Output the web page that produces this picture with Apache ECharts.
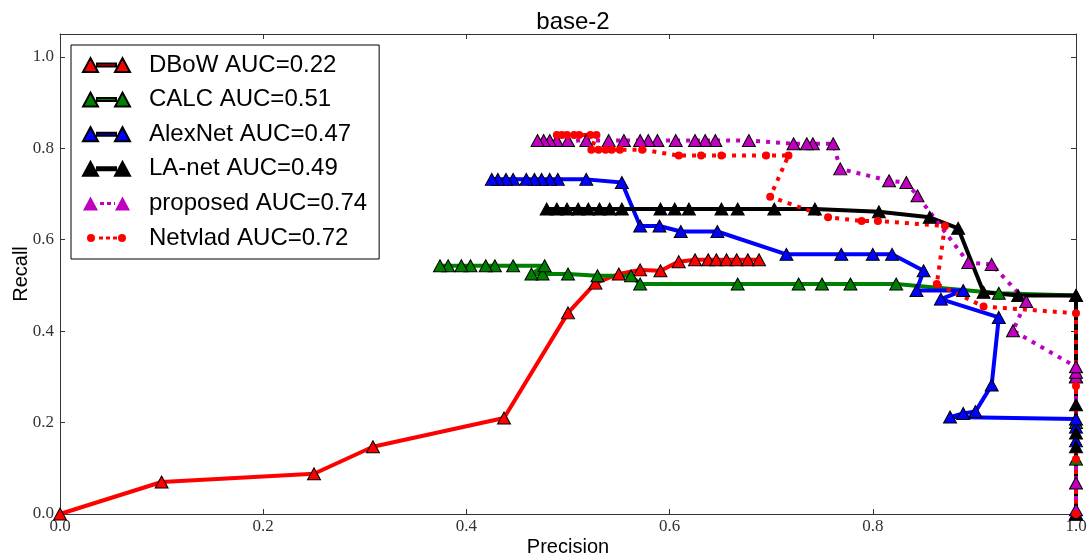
<!DOCTYPE html>
<html>
<head>
<meta charset="utf-8">
<title>base-2</title>
<script src="https://cdn.jsdelivr.net/npm/echarts@6/dist/echarts.min.js"></script>
<style>
    html, body { margin: 0; padding: 0; background: #ffffff; }
    #chart { width: 1092px; height: 557px; }
</style>
</head>
<body>
<div id="chart"></div>
<script>
// precision / recall pairs
const dbowP = [0, 0.1, 0.25, 0.308, 0.437, 0.5, 0.527, 0.55, 0.571, 0.591, 0.609, 0.625, 0.638, 0.646, 0.656, 0.666, 0.677, 0.688];
const dbowR = [0, 0.07, 0.088, 0.147, 0.21, 0.44, 0.505, 0.525, 0.534, 0.532, 0.552, 0.556, 0.556, 0.556, 0.556, 0.556, 0.556, 0.556];

const calcP = [1.0, 1.0, 1.0, 1.0, 0.924, 0.823, 0.778, 0.75, 0.727, 0.667, 0.571, 0.562, 0.529, 0.5, 0.475, 0.464, 0.477, 0.446, 0.428, 0.419, 0.404, 0.395, 0.382, 0.374];
const calcR = [0.0, 0.12, 0.2, 0.478, 0.483, 0.503, 0.503, 0.503, 0.503, 0.503, 0.503, 0.521, 0.521, 0.525, 0.525, 0.525, 0.543, 0.543, 0.543, 0.543, 0.543, 0.543, 0.543, 0.543];

const alexP = [1.0, 1.0, 1.0, 1.0, 0.876, 0.889, 0.901, 0.917, 0.924, 0.867, 0.889, 0.843, 0.85, 0.819, 0.8, 0.769, 0.715, 0.647, 0.611, 0.59, 0.571, 0.553, 0.518, 0.49, 0.482, 0.474, 0.467, 0.459, 0.446, 0.439, 0.431, 0.425];
const alexR = [0.0, 0.16, 0.19, 0.208, 0.212, 0.22, 0.224, 0.282, 0.43, 0.47, 0.489, 0.489, 0.532, 0.568, 0.568, 0.568, 0.568, 0.618, 0.618, 0.63, 0.63, 0.725, 0.732, 0.732, 0.732, 0.732, 0.732, 0.732, 0.732, 0.732, 0.732, 0.732];

const lanetP = [1.0, 1.0, 1.0, 1.0, 1.0, 1.0, 0.943, 0.909, 0.884, 0.856, 0.806, 0.743, 0.703, 0.667, 0.651, 0.619, 0.605, 0.591, 0.553, 0.541, 0.531, 0.52, 0.51, 0.499, 0.489, 0.479];
const lanetR = [0.0, 0.147, 0.177, 0.239, 0.3, 0.478, 0.478, 0.485, 0.625, 0.649, 0.661, 0.667, 0.667, 0.667, 0.667, 0.667, 0.667, 0.667, 0.667, 0.667, 0.667, 0.667, 0.667, 0.667, 0.667, 0.667];

const propP = [1.0, 1.0, 1.0, 1.0, 1.0, 0.938, 0.951, 0.917, 0.894, 0.844, 0.833, 0.816, 0.768, 0.761, 0.741, 0.735, 0.722, 0.678, 0.645, 0.635, 0.625, 0.606, 0.588, 0.579, 0.571, 0.555, 0.54, 0.518, 0.5, 0.489, 0.482, 0.476, 0.47];
const propR = [0.009, 0.068, 0.3, 0.31, 0.322, 0.401, 0.465, 0.546, 0.55, 0.696, 0.725, 0.729, 0.755, 0.81, 0.81, 0.81, 0.81, 0.817, 0.817, 0.817, 0.817, 0.817, 0.817, 0.817, 0.817, 0.817, 0.817, 0.817, 0.817, 0.817, 0.817, 0.817, 0.817];

const netvP = [1.0, 1.0, 1.0, 1.0, 0.909, 0.863, 0.871, 0.805, 0.789, 0.756, 0.699, 0.717, 0.695, 0.651, 0.631, 0.609, 0.573, 0.551, 0.543, 0.537, 0.53, 0.523, 0.528, 0.522, 0.511, 0.506, 0.499, 0.494, 0.489];
const netvR = [0.0, 0.12, 0.28, 0.439, 0.454, 0.503, 0.63, 0.641, 0.641, 0.649, 0.694, 0.784, 0.784, 0.784, 0.784, 0.784, 0.797, 0.797, 0.797, 0.797, 0.797, 0.797, 0.829, 0.829, 0.829, 0.829, 0.829, 0.829, 0.829];

const seriesNames = ['DBoW AUC=0.22', 'CALC AUC=0.51', 'AlexNet AUC=0.47', 'LA-net AUC=0.49', 'proposed AUC=0.74', 'Netvlad AUC=0.72'];
const xTicks = [0, 0.2, 0.4, 0.6, 0.8, 1.0];
const yTicks = [0, 0.2, 0.4, 0.6, 0.8, 1.0];

document.addEventListener('DOMContentLoaded', function () {
    const chart = echarts.init(document.getElementById('chart'), null, { renderer: 'canvas' });

    function pairs(p, r) {
        return p.map(function (v, i) { return [v, r[i]]; });
    }

    // legend icons: marker - line - marker like the matplotlib legend
    // (the lone M0,0 / M47,14 keep every icon box the same 47x14)
    const iconSolid = 'path://M0,0 M47,14 M0,14L7.5,0L15,14Z M14,5.5L33,5.5L33,8.5L14,8.5Z M32,14L39.5,0L47,14Z';
    const iconDotted = 'path://M0,0 M47,14 M0,14L7.5,0L15,14Z M17,5.5L21,5.5L21,8.5L17,8.5Z M24,5.5L28,5.5L28,8.5L24,8.5Z M31,5.5L32,5.5L32,8.5L31,8.5Z M32,14L39.5,0L47,14Z';
    const iconCircles = 'path://M0,0 M47,14 M4,7A4,4,0,1,0,12,7A4,4,0,1,0,4,7Z M16,5.5L20,5.5L20,8.5L16,8.5Z M23,5.5L27,5.5L27,8.5L23,8.5Z M30,5.5L34,5.5L34,8.5L30,8.5Z M35,7A4,4,0,1,0,43,7A4,4,0,1,0,35,7Z';

    function makeSeries(name, color, data, dotted, circle) {
        return {
            name: name,
            type: 'line',
            data: data,
            symbol: circle ? 'circle' : 'triangle',
            symbolSize: circle ? 8 : [13, 12],
            showAllSymbol: true,
            lineStyle: {
                color: color,
                width: 4,
                type: dotted ? [4, 6] : 'solid'
            },
            itemStyle: {
                color: color,
                borderColor: circle ? color : '#000000',
                borderWidth: circle ? 0 : 1
            },
            emphasis: { disabled: true },
            animation: false
        };
    }

    const axisFont = {
        fontFamily: 'Liberation Serif',
        fontSize: 17,
        color: '#333333'
    };

    const option = {
        backgroundColor: '#ffffff',
        title: {
            text: 'base-2',
            left: 568,
            top: 5,
            textAlign: 'center',
            textStyle: {
                fontFamily: 'Liberation Sans',
                fontSize: 24,
                fontWeight: 'normal',
                color: '#000000'
            }
        },
        legend: {
            orient: 'vertical',
            left: 71,
            top: 45,
            padding: [8, 12, 9, 11],
            itemGap: 10.6,
            itemWidth: 47,
            itemHeight: 14,
            symbolKeepAspect: false,
            backgroundColor: '#ffffff',
            borderColor: '#000000',
            borderWidth: 1,
            borderRadius: 0,
            selectedMode: false,
            textStyle: {
                fontFamily: 'Liberation Sans',
                fontSize: 24,
                lineHeight: 24,
                color: '#000000',
                padding: [0, 0, 0, 14]
            },
            data: [
                { name: seriesNames[0], icon: iconSolid },
                { name: seriesNames[1], icon: iconSolid },
                { name: seriesNames[2], icon: iconSolid },
                { name: seriesNames[3], icon: iconSolid },
                { name: seriesNames[4], icon: iconDotted, itemStyle: { borderWidth: 0 } },
                { name: seriesNames[5], icon: iconCircles, itemStyle: { borderWidth: 0 } }
            ]
        },
        grid: {
            left: 60,
            right: 16,
            top: 34,
            bottom: 43,
            containLabel: false,
            outerBoundsMode: 'none'
        },
        xAxis: [
            {
                type: 'value',
                min: xTicks[0],
                max: xTicks[xTicks.length - 1],
                interval: 0.2,
                name: 'Precision',
                nameLocation: 'middle',
                nameGap: 23,
                nameMoveOverlap: false,
                nameTextStyle: { fontFamily: 'Liberation Sans', fontSize: 20, color: '#000000' },
                axisLine: { onZero: false, lineStyle: { color: '#333333', width: 1 } },
                axisTick: { inside: true, length: 5, lineStyle: { color: '#333333' } },
                axisLabel: Object.assign({ margin: 4, formatter: function (v) { return v.toFixed(1); } }, axisFont),
                splitLine: { show: false }
            },
            {
                type: 'value',
                position: 'top',
                min: xTicks[0],
                max: xTicks[xTicks.length - 1],
                interval: 0.2,
                axisLine: { onZero: false, lineStyle: { color: '#333333', width: 1 } },
                axisTick: { inside: true, length: 5, lineStyle: { color: '#333333' } },
                axisLabel: { show: false },
                splitLine: { show: false }
            }
        ],
        yAxis: [
            {
                type: 'value',
                min: yTicks[0],
                max: 1.05,
                interval: 0.2,
                name: 'Recall',
                nameLocation: 'middle',
                nameGap: 29,
                nameMoveOverlap: false,
                nameTextStyle: { fontFamily: 'Liberation Sans', fontSize: 20, color: '#000000' },
                axisLine: { show: true, onZero: false, lineStyle: { color: '#333333', width: 1 } },
                axisTick: { show: true, inside: true, length: 5, lineStyle: { color: '#333333' } },
                axisLabel: Object.assign({ margin: 6, showMaxLabel: false, formatter: function (v) { return v.toFixed(1); } }, axisFont),
                splitLine: { show: false }
            },
            {
                type: 'value',
                position: 'right',
                min: yTicks[0],
                max: 1.05,
                interval: 0.2,
                axisLine: { show: true, onZero: false, lineStyle: { color: '#333333', width: 1 } },
                axisTick: { show: true, inside: true, length: 5, lineStyle: { color: '#333333' } },
                axisLabel: { show: false },
                splitLine: { show: false }
            }
        ],
        series: [
            makeSeries(seriesNames[0], '#ff0000', pairs(dbowP, dbowR), false, false),
            makeSeries(seriesNames[1], '#008000', pairs(calcP, calcR), false, false),
            makeSeries(seriesNames[2], '#0000ff', pairs(alexP, alexR), false, false),
            makeSeries(seriesNames[3], '#000000', pairs(lanetP, lanetR), false, false),
            makeSeries(seriesNames[4], '#bf00bf', pairs(propP, propR), true, false),
            makeSeries(seriesNames[5], '#ff0000', pairs(netvP, netvR), true, true)
        ]
    };

    chart.setOption(option);

    window.addEventListener('resize', function () {
        chart.resize();
    });
});
</script>
</body>
</html>
